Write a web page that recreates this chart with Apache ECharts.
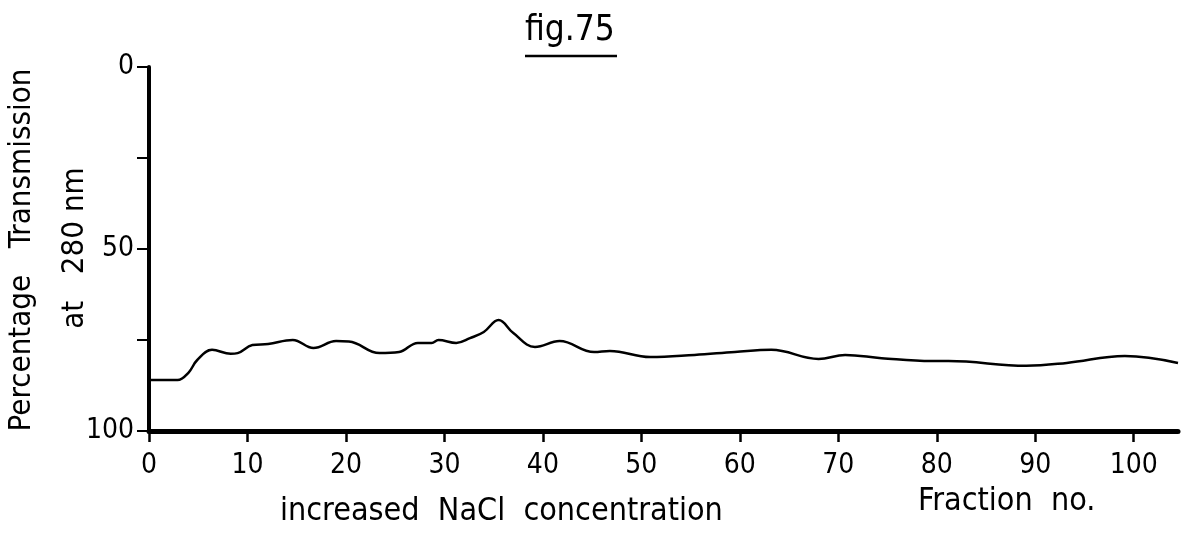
<!DOCTYPE html>
<html>
<head>
<meta charset="utf-8">
<script src="https://cdn.jsdelivr.net/npm/echarts@6/dist/echarts.min.js"></script>
<style>
html,body{margin:0;padding:0;background:#fff;}
#chart{width:1193px;height:537px;}
</style>
</head>
<body>
<div id="chart"></div>
<script>
// Fraction number (x) and percentage transmission at 280 nm (y)
const fractions = [0, 2.9, 4, 4.9, 6.4, 8.3, 9, 10.5, 12.1, 14.6, 16.7, 19, 20.3, 23.4, 25.4, 27.3, 28.7, 29.4, 31.2, 32.6, 34, 35.5, 37, 39.2, 41.7, 45.2, 46.8, 50.9, 55.4, 59.5, 63.2, 68, 70.7, 74.4, 79.5, 81.2, 89.1, 93.2, 99.1, 104.5];
const transmission = [86, 86, 84, 80.5, 77.7, 78.8, 78.6, 76.4, 76.1, 75, 77.2, 75.3, 75.4, 78.6, 78.3, 75.8, 75.8, 75, 75.8, 74.5, 72.8, 69.5, 73.1, 76.9, 75.3, 78.3, 78, 79.7, 79.1, 78.3, 77.7, 80.2, 79.1, 80, 80.8, 80.8, 82.1, 81.3, 79.4, 81.3];
const xTicks = [0, 10, 20, 30, 40, 50, 60, 70, 80, 90, 100];
const yTicks = [0, 25, 50, 75, 100];
const yLabels = [0, 50, 100];
const titleText = 'fig.75';
const yNameLine1 = 'Percentage   Transmission';
const yNameLine2 = 'at   280 nm';
const noteText = 'increased  NaCl  concentration';
const xName = 'Fraction  no.';

const FONT = '"DejaVu Sans Condensed", "Liberation Sans Narrow", sans-serif';
const chart = echarts.init(document.getElementById('chart'));
chart.setOption({
  animation: false,
  backgroundColor: '#fff',
  grid: {left: 149, top: 67, right: 15, bottom: 106, containLabel: false, outerBoundsMode: 'none'},
  xAxis: {
    type: 'value', min: 0, max: 104.5, position: 'bottom',
    axisLine: {onZero: false, lineStyle: {color: '#000', width: 5}},
    axisTick: {customValues: xTicks, length: 11, lineStyle: {color: '#000', width: 2.5}},
    axisLabel: {customValues: xTicks, margin: 21, color: '#000', fontFamily: FONT, fontSize: 28},
    splitLine: {show: false}
  },
  yAxis: {
    type: 'value', min: 0, max: 100, inverse: true,
    axisLine: {onZero: false, lineStyle: {color: '#000', width: 4}},
    axisTick: {customValues: yTicks, length: 12, lineStyle: {color: '#000', width: 2}},
    axisLabel: {customValues: yLabels, margin: 15, color: '#000', fontFamily: FONT, fontSize: 28},
    splitLine: {show: false}
  },
  graphic: [
    {type: 'text', left: 525, top: 13, style: {text: titleText, fill: '#000', font: '35px ' + FONT}},
    {type: 'line', shape: {x1: 525, y1: 56, x2: 617, y2: 56}, style: {stroke: '#000', lineWidth: 2.5}},
    {type: 'text', x: 22, y: 250, rotation: Math.PI / 2,
     style: {text: yNameLine1, fill: '#000', font: '31px ' + FONT, textAlign: 'center', textVerticalAlign: 'middle'}},
    {type: 'text', x: 75, y: 248, rotation: Math.PI / 2,
     style: {text: yNameLine2, fill: '#000', font: '31px ' + FONT, textAlign: 'center', textVerticalAlign: 'middle'}},
    {type: 'text', left: 280, top: 496, style: {text: noteText, fill: '#000', font: '32px ' + FONT}},
    {type: 'text', left: 918, top: 486, style: {text: xName, fill: '#000', font: '32px ' + FONT}}
  ],
  series: [{
    type: 'line',
    data: fractions.map((f, i) => [f, transmission[i]]),
    smooth: 0.4,
    showSymbol: false,
    lineStyle: {color: '#000', width: 2.5}
  }]
});
</script>
</body>
</html>
